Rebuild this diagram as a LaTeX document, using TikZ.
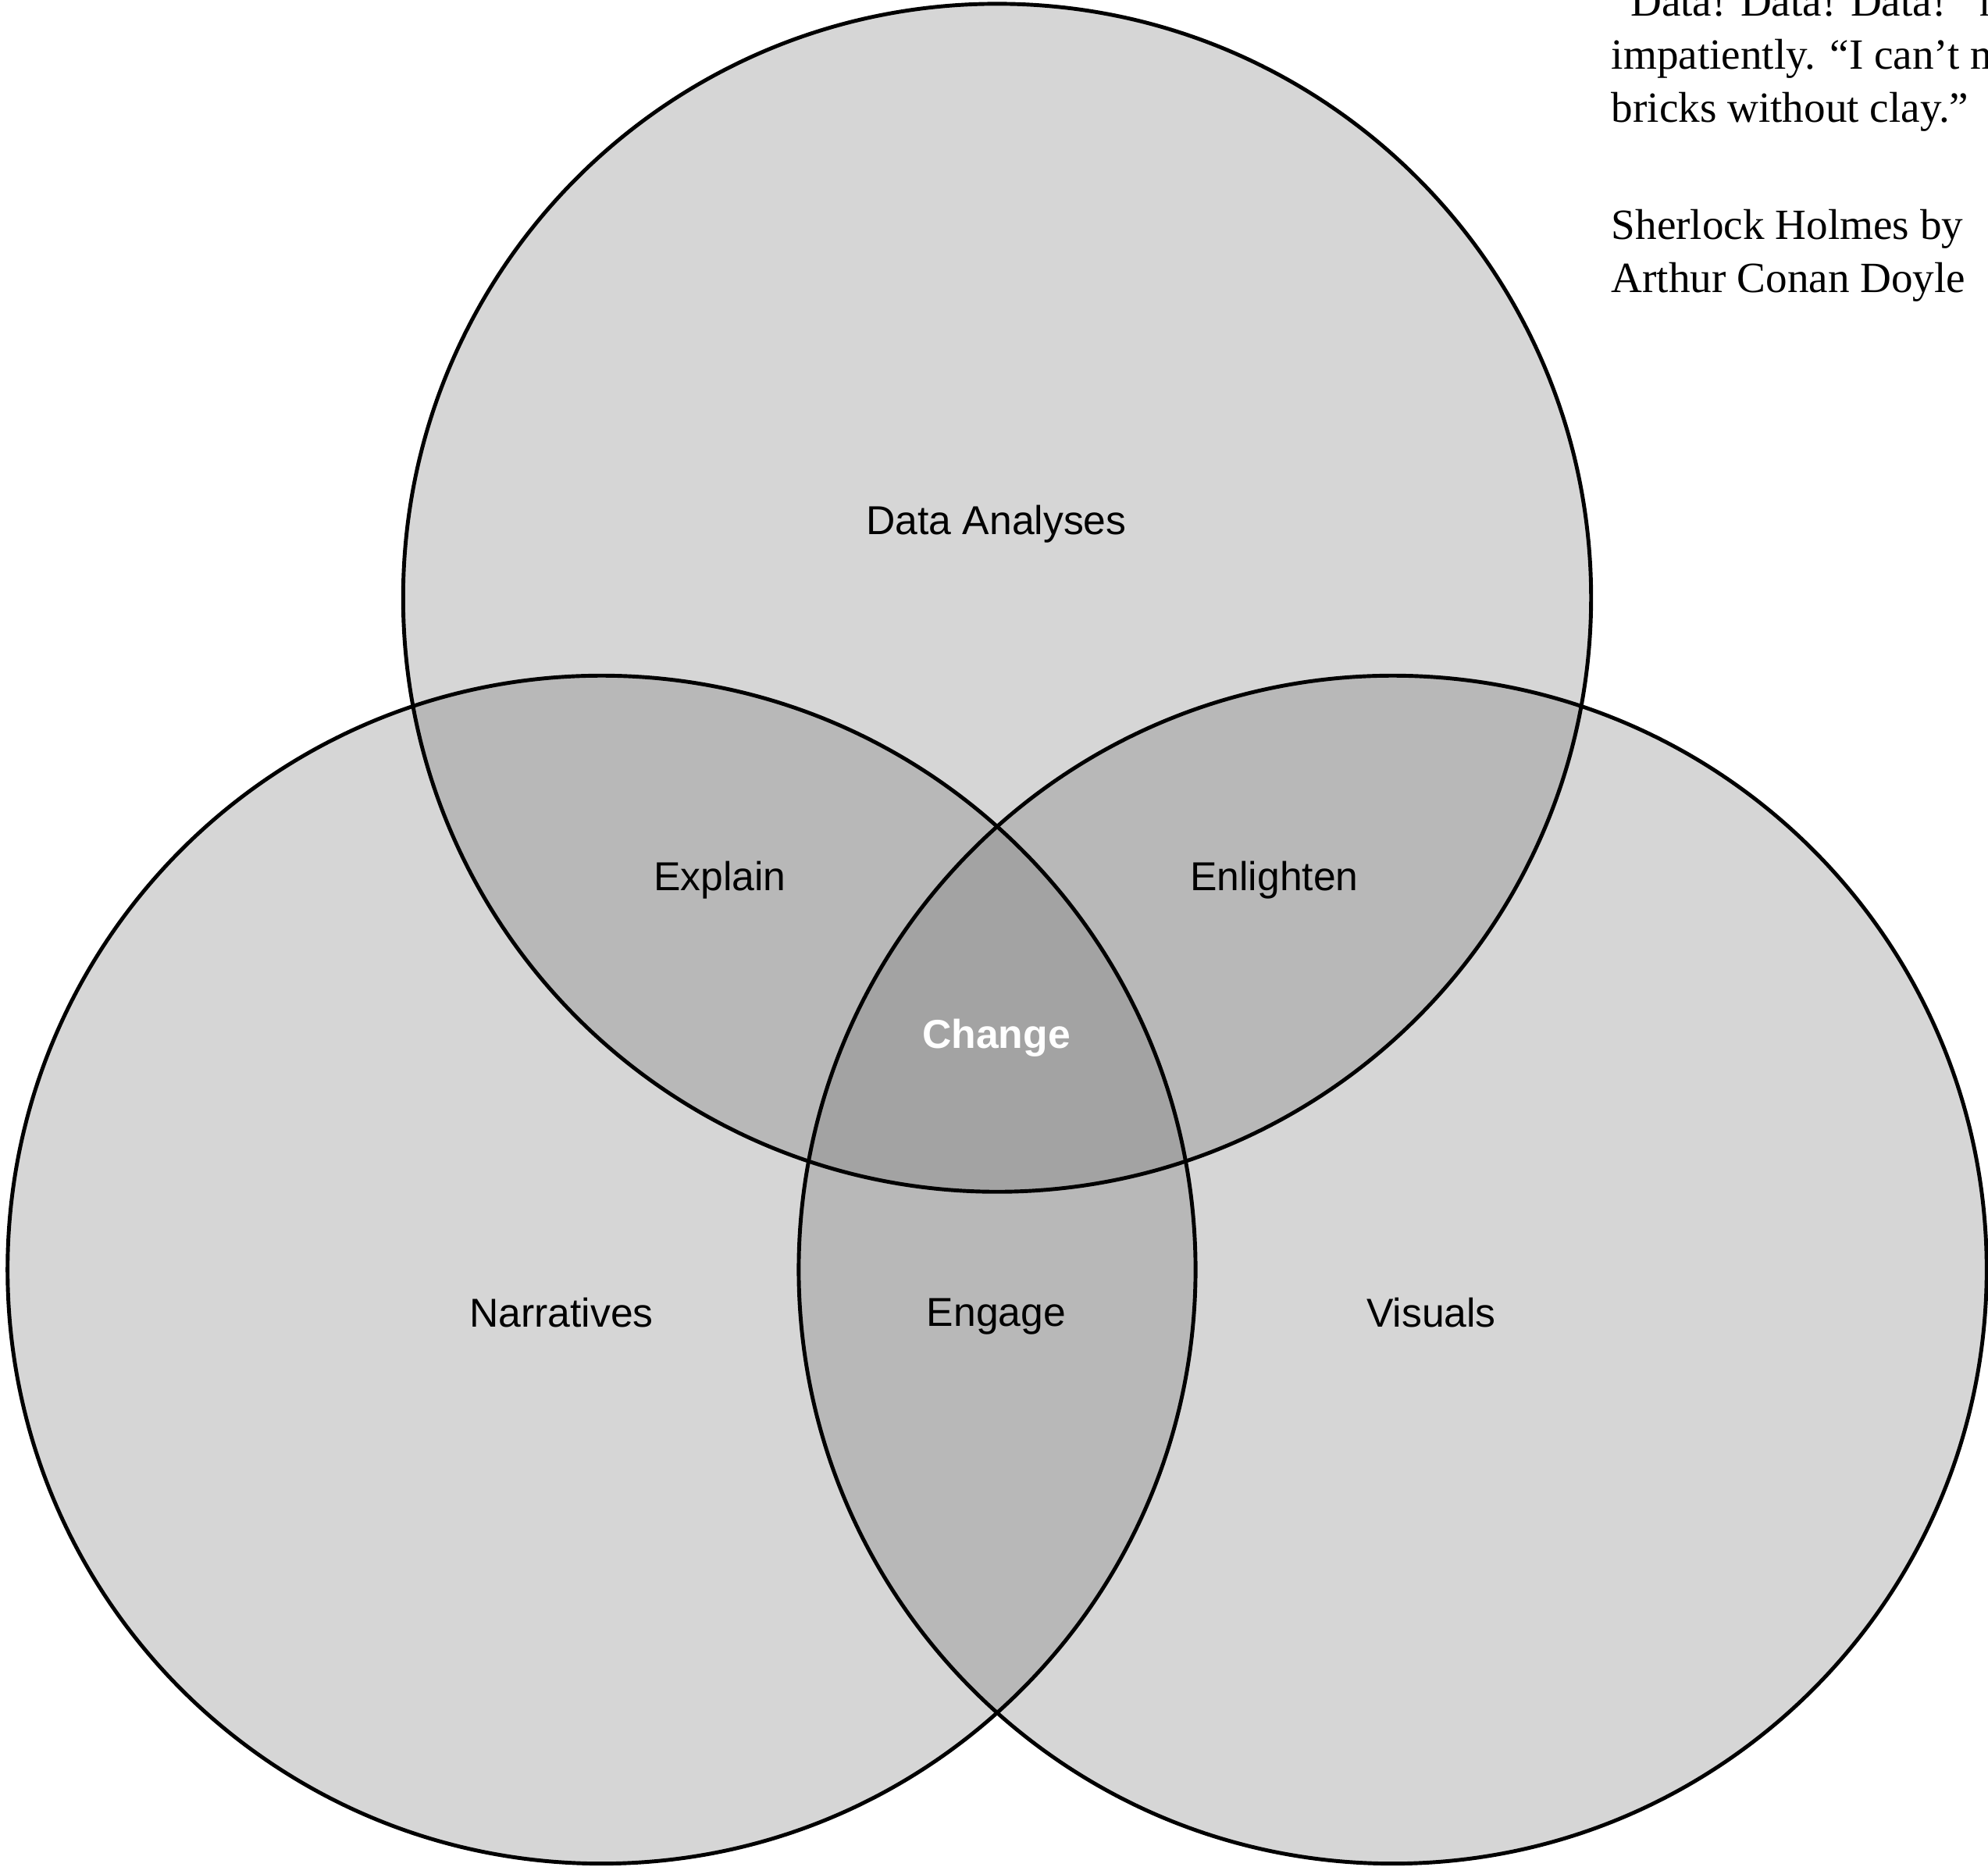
\documentclass[tikz,border=0pt]{standalone}
\usepackage{fontspec}
\usepackage{tikz}
\usetikzlibrary{positioning}
\newfontfamily\labelfont{Liberation Sans}
\newfontfamily\quotefont{Liberation Serif}
\definecolor{onecolor}{RGB}{214,214,214}
\definecolor{twocolor}{RGB}{184,184,184}
\definecolor{threecolor}{RGB}{163,163,163}

\tikzset{
  vennlabel/.style={font=\labelfont\fontsize{14.7}{17}\selectfont},
  quotetext/.style={font=\quotefont\fontsize{15.7}{19.45}\selectfont, align=left, anchor=base west, inner sep=0pt}
}

\begin{document}
\begin{tikzpicture}
  \useasboundingbox (0,0) rectangle (25.46,23.91);
  \def\rad{7.607}
  % circles
  \fill[onecolor] (12.77,16.254) circle (\rad);
  \fill[onecolor] (7.704,7.65) circle (\rad);
  \fill[onecolor] (17.836,7.65) circle (\rad);
  % pairwise overlaps
  \begin{scope}
    \clip (12.77,16.254) circle (\rad);
    \fill[twocolor] (7.704,7.65) circle (\rad);
    \fill[twocolor] (17.836,7.65) circle (\rad);
  \end{scope}
  \begin{scope}
    \clip (7.704,7.65) circle (\rad);
    \fill[twocolor] (17.836,7.65) circle (\rad);
  \end{scope}
  % centre overlap
  \begin{scope}
    \clip (12.77,16.254) circle (\rad);
    \clip (7.704,7.65) circle (\rad);
    \fill[threecolor] (17.836,7.65) circle (\rad);
  \end{scope}
  % outlines
  \draw[line width=1.4pt] (12.77,16.254) circle (\rad);
  \draw[line width=1.4pt] (7.704,7.65) circle (\rad);
  \draw[line width=1.4pt] (17.836,7.65) circle (\rad);
  % labels
  \node[vennlabel] (data) at (12.76,17.20) {Data Analyses};
  \node[vennlabel] (explain) at (9.22,12.64) {Explain};
  \node[vennlabel] (enlighten) at (16.32,12.64) {Enlighten};
  \node[vennlabel, white, font=\labelfont\bfseries\fontsize{14.7}{17}\selectfont] (change) at (12.76,10.62) {Change};
  \node[vennlabel] (narr) at (7.19,7.10) {Narratives};
  \node[vennlabel] (engage) at (12.76,7.05) {Engage};
  \node[vennlabel] (visuals) at (18.33,7.10) {Visuals};
  % quote (base = last line)
  \node[quotetext] (quote) at (20.63,22.34) {“Data! Data! Data!” he\\impatiently. “I can’t make\\bricks without clay.”};
  \node[quotetext] (source) at (20.63,20.16) {Sherlock Holmes by\\Arthur Conan Doyle};
\end{tikzpicture}
\end{document}
